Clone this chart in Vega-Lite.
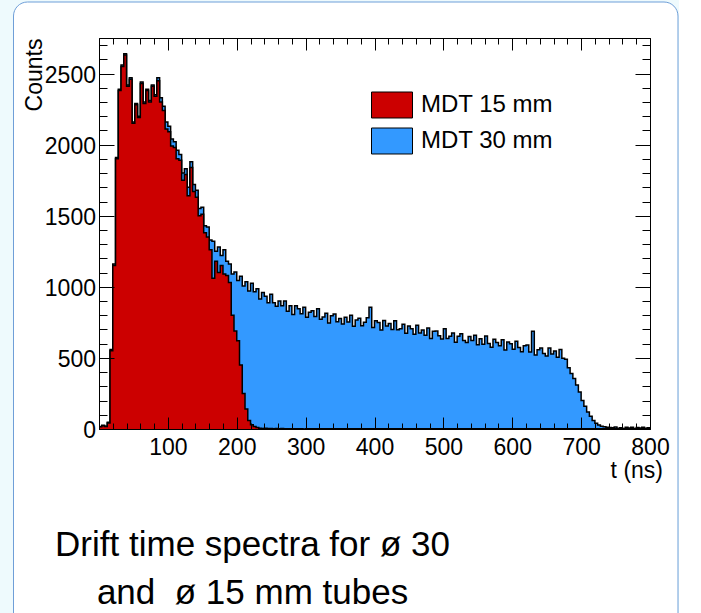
{
"$schema": "https://vega.github.io/schema/vega-lite/v6.json",
"width": 551, "height": 391,
"padding": {"left": 13, "top": 1, "right": 0, "bottom": 0},
"autosize": {"type": "pad"},
"background": "#eefafd",
"title": {"text": ["Drift time spectra for ø 30", "and \u00a0ø 15 mm tubes"], "orient": "bottom", "anchor": "middle", "frame": "group", "dx": -122, "offset": -74, "baseline": "alphabetic", "font": "Liberation Sans", "fontSize": 35, "fontWeight": "normal", "color": "black", "lineHeight": 48},
"datasets": {
"mdt30": [{"t":0,"n":18},{"t":4,"n":26},{"t":8,"n":20},{"t":12,"n":48},{"t":16,"n":560},{"t":20,"n":1160},{"t":24,"n":1910},{"t":28,"n":2390},{"t":32,"n":2560},{"t":36,"n":2640},{"t":40,"n":2420},{"t":44,"n":2470},{"t":48,"n":2160},{"t":52,"n":2290},{"t":56,"n":2200},{"t":60,"n":2440},{"t":64,"n":2300},{"t":68,"n":2390},{"t":72,"n":2310},{"t":76,"n":2420},{"t":80,"n":2350},{"t":84,"n":2470},{"t":88,"n":2330},{"t":92,"n":2270},{"t":96,"n":2160},{"t":100,"n":2130},{"t":104,"n":2040},{"t":108,"n":2020},{"t":112,"n":1960},{"t":116,"n":1930},{"t":120,"n":1800},{"t":124,"n":1830},{"t":128,"n":1700},{"t":132,"n":1880},{"t":136,"n":1720},{"t":140,"n":1680},{"t":144,"n":1550},{"t":148,"n":1560},{"t":152,"n":1430},{"t":156,"n":1420},{"t":160,"n":1330},{"t":164,"n":1320},{"t":168,"n":1250},{"t":172,"n":1280},{"t":176,"n":1220},{"t":180,"n":1260},{"t":184,"n":1180},{"t":188,"n":1160},{"t":192,"n":1090},{"t":196,"n":1105},{"t":200,"n":1045},{"t":204,"n":1075},{"t":208,"n":1005},{"t":212,"n":1035},{"t":216,"n":970},{"t":220,"n":1025},{"t":224,"n":965},{"t":228,"n":987},{"t":232,"n":915},{"t":236,"n":960},{"t":240,"n":933},{"t":244,"n":888},{"t":248,"n":948},{"t":252,"n":888},{"t":256,"n":863},{"t":260,"n":900},{"t":264,"n":867},{"t":268,"n":900},{"t":272,"n":828},{"t":276,"n":867},{"t":280,"n":806},{"t":284,"n":866},{"t":288,"n":846},{"t":292,"n":811},{"t":296,"n":856},{"t":300,"n":786},{"t":304,"n":821},{"t":308,"n":831},{"t":312,"n":791},{"t":316,"n":846},{"t":320,"n":772},{"t":324,"n":788},{"t":328,"n":814},{"t":332,"n":745},{"t":336,"n":796},{"t":340,"n":808},{"t":344,"n":755},{"t":348,"n":777},{"t":352,"n":739},{"t":356,"n":786},{"t":360,"n":753},{"t":364,"n":800},{"t":368,"n":723},{"t":372,"n":766},{"t":376,"n":779},{"t":380,"n":727},{"t":384,"n":750},{"t":388,"n":783},{"t":392,"n":856},{"t":396,"n":714},{"t":400,"n":762},{"t":404,"n":749},{"t":408,"n":696},{"t":412,"n":763},{"t":416,"n":725},{"t":420,"n":742},{"t":424,"n":699},{"t":428,"n":761},{"t":432,"n":698},{"t":436,"n":705},{"t":440,"n":737},{"t":444,"n":673},{"t":448,"n":724},{"t":452,"n":705},{"t":456,"n":667},{"t":460,"n":729},{"t":464,"n":675},{"t":468,"n":697},{"t":472,"n":659},{"t":476,"n":710},{"t":480,"n":637},{"t":484,"n":688},{"t":488,"n":690},{"t":492,"n":656},{"t":496,"n":633},{"t":500,"n":705},{"t":504,"n":636},{"t":508,"n":653},{"t":512,"n":675},{"t":516,"n":611},{"t":520,"n":653},{"t":524,"n":670},{"t":528,"n":622},{"t":532,"n":609},{"t":536,"n":651},{"t":540,"n":623},{"t":544,"n":660},{"t":548,"n":592},{"t":552,"n":634},{"t":556,"n":596},{"t":560,"n":654},{"t":564,"n":602},{"t":568,"n":575},{"t":572,"n":632},{"t":576,"n":609},{"t":580,"n":586},{"t":584,"n":628},{"t":588,"n":555},{"t":592,"n":612},{"t":596,"n":599},{"t":600,"n":561},{"t":604,"n":617},{"t":608,"n":573},{"t":612,"n":544},{"t":616,"n":585},{"t":620,"n":591},{"t":624,"n":542},{"t":628,"n":688},{"t":632,"n":520},{"t":636,"n":557},{"t":640,"n":569},{"t":644,"n":531},{"t":648,"n":513},{"t":652,"n":570},{"t":656,"n":527},{"t":660,"n":549},{"t":664,"n":505},{"t":668,"n":560},{"t":672,"n":498},{"t":676,"n":490},{"t":680,"n":430},{"t":684,"n":390},{"t":688,"n":355},{"t":692,"n":310},{"t":696,"n":260},{"t":700,"n":200},{"t":704,"n":160},{"t":708,"n":120},{"t":712,"n":90},{"t":716,"n":60},{"t":720,"n":40},{"t":724,"n":28},{"t":728,"n":20},{"t":732,"n":15},{"t":736,"n":12},{"t":740,"n":10},{"t":744,"n":8},{"t":748,"n":14},{"t":752,"n":5},{"t":756,"n":9},{"t":760,"n":4},{"t":764,"n":12},{"t":768,"n":7},{"t":772,"n":13},{"t":776,"n":4},{"t":780,"n":10},{"t":784,"n":7},{"t":788,"n":12},{"t":792,"n":5},{"t":796,"n":9},{"t":800,"n":9}],
"mdt15": [{"t":0,"n":15},{"t":4,"n":22},{"t":8,"n":18},{"t":12,"n":42},{"t":16,"n":550},{"t":20,"n":1150},{"t":24,"n":1900},{"t":28,"n":2380},{"t":32,"n":2550},{"t":36,"n":2630},{"t":40,"n":2410},{"t":44,"n":2460},{"t":48,"n":2150},{"t":52,"n":2280},{"t":56,"n":2190},{"t":60,"n":2430},{"t":64,"n":2290},{"t":68,"n":2380},{"t":72,"n":2300},{"t":76,"n":2410},{"t":80,"n":2340},{"t":84,"n":2450},{"t":88,"n":2300},{"t":92,"n":2240},{"t":96,"n":2110},{"t":100,"n":2090},{"t":104,"n":1990},{"t":108,"n":1980},{"t":112,"n":1900},{"t":116,"n":1890},{"t":120,"n":1750},{"t":124,"n":1790},{"t":128,"n":1640},{"t":132,"n":1840},{"t":136,"n":1670},{"t":140,"n":1630},{"t":144,"n":1500},{"t":148,"n":1510},{"t":152,"n":1380},{"t":156,"n":1350},{"t":160,"n":1260},{"t":164,"n":1060},{"t":168,"n":1180},{"t":172,"n":1100},{"t":176,"n":1150},{"t":180,"n":1090},{"t":184,"n":1080},{"t":188,"n":1030},{"t":192,"n":800},{"t":196,"n":690},{"t":200,"n":620},{"t":204,"n":450},{"t":208,"n":250},{"t":212,"n":140},{"t":216,"n":60},{"t":220,"n":30},{"t":224,"n":18},{"t":228,"n":10},{"t":232,"n":6},{"t":236,"n":4},{"t":240,"n":5},{"t":244,"n":3},{"t":248,"n":4},{"t":252,"n":2},{"t":256,"n":3},{"t":260,"n":2},{"t":264,"n":3},{"t":268,"n":1},{"t":272,"n":2},{"t":276,"n":1},{"t":280,"n":2},{"t":284,"n":1},{"t":288,"n":1},{"t":292,"n":1},{"t":296,"n":0},{"t":300,"n":1},{"t":800,"n":0}]
},
"layer": [
{"data": {"values": [{}]}, "mark": {"type": "rect", "fill": "white", "stroke": "#6f9fd8", "strokeWidth": 1, "cornerRadius": 14, "xOffset": -85.5, "x2Offset": 28, "yOffset": -36, "y2Offset": 200},
 "encoding": {"x": {"value": 0}, "x2": {"value": "width"}, "y": {"value": 0}, "y2": {"value": "height"}}},
{"data": {"name": "mdt30"}, "mark": {"type": "area", "interpolate": "step-after", "opacity": 1},
 "encoding": {
  "x": {"field": "t", "type": "quantitative", "scale": {"domain": [0, 800], "nice": false, "zero": false},
    "axis": {"orient": "bottom", "zindex": 2, "values": [0,100,200,300,400,500,600,700,800], "format": "d", "tickSize": -12, "labelExpr": "datum.value == 0 ? '' : datum.label", "labelFontSize": 23, "labelPadding": 19, "labelFlush": false, "labelOverlap": false, "domain": true, "title": "t (ns)", "titleX": 563.5, "titleY": 48, "titleAlign": "right", "titleBaseline": "alphabetic", "titleFontSize": 23, "titleFontWeight": "normal"}},
  "y": {"field": "n", "type": "quantitative", "stack": null, "scale": {"domain": [0, 2750], "nice": false},
    "axis": {"orient": "left", "zindex": 2, "values": [0,500,1000,1500,2000,2500], "format": "d", "tickSize": -15, "labelFontSize": 23, "labelPadding": 18.5, "labelOffset": 1.5, "labelFlush": false, "labelOverlap": false, "domain": true, "title": "Counts", "titleX": -57.5, "titleY": 0, "titleAngle": -90, "titleAlign": "right", "titleBaseline": "alphabetic", "titleFontSize": 23, "titleFontWeight": "normal"}},
  "color": {"datum": "MDT 30 mm", "type": "nominal", "scale": {"domain": ["MDT 15 mm", "MDT 30 mm"], "range": ["#cc0000", "#3399ff"]},
    "legend": {"orient": "none", "zindex": 2, "legendX": 272, "legendY": 46, "title": null, "symbolType": "M-1,-0.634H1V0.634H-1Z", "symbolSize": 1681, "symbolStrokeColor": "black", "symbolStrokeWidth": 1, "symbolOpacity": 1, "labelFont": "Liberation Sans", "labelFontSize": 24, "labelColor": "black", "labelOffset": 8, "rowPadding": -2}}
 }},
{"data": {"name": "mdt30"}, "mark": {"type": "line", "interpolate": "step-after", "color": "black", "strokeWidth": 1.5},
 "encoding": {
  "x": {"field": "t", "type": "quantitative", "scale": {"domain": [0, 800], "nice": false, "zero": false},
    "axis": {"orient": "bottom", "zindex": 2, "values": [0,20,40,60,80,100,120,140,160,180,200,220,240,260,280,300,320,340,360,380,400,420,440,460,480,500,520,540,560,580,600,620,640,660,680,700,720,740,760,780,800], "tickSize": -6, "labels": false, "domain": false, "title": null}},
  "y": {"field": "n", "type": "quantitative", "scale": {"domain": [0, 2750], "nice": false},
    "axis": {"orient": "left", "zindex": 2, "values": [0,100,200,300,400,500,600,700,800,900,1000,1100,1200,1300,1400,1500,1600,1700,1800,1900,2000,2100,2200,2300,2400,2500,2600,2700], "tickSize": -8, "labels": false, "domain": false, "title": null}}
 }},
{"data": {"name": "mdt15"}, "mark": {"type": "area", "interpolate": "step-after", "opacity": 1},
 "encoding": {
  "x": {"field": "t", "type": "quantitative", "scale": {"domain": [0, 800], "nice": false, "zero": false},
    "axis": {"orient": "top", "zindex": 2, "values": [0,100,200,300,400,500,600,700,800], "tickSize": -12, "labels": false, "domain": true, "title": null}},
  "y": {"field": "n", "type": "quantitative", "stack": null, "scale": {"domain": [0, 2750], "nice": false},
    "axis": {"orient": "right", "zindex": 2, "values": [0,500,1000,1500,2000,2500], "tickSize": -15, "labels": false, "domain": true, "title": null}},
  "color": {"datum": "MDT 15 mm", "type": "nominal", "scale": {"domain": ["MDT 15 mm", "MDT 30 mm"], "range": ["#cc0000", "#3399ff"]},
    "legend": {"orient": "none", "zindex": 2, "legendX": 272, "legendY": 46, "title": null, "symbolType": "M-1,-0.634H1V0.634H-1Z", "symbolSize": 1681, "symbolStrokeColor": "black", "symbolStrokeWidth": 1, "symbolOpacity": 1, "labelFont": "Liberation Sans", "labelFontSize": 24, "labelColor": "black", "labelOffset": 8, "rowPadding": -2}}
 }},
{"data": {"name": "mdt15"}, "mark": {"type": "line", "interpolate": "step-after", "color": "black", "strokeWidth": 1.5},
 "encoding": {
  "x": {"field": "t", "type": "quantitative", "scale": {"domain": [0, 800], "nice": false, "zero": false},
    "axis": {"orient": "top", "zindex": 2, "values": [0,20,40,60,80,100,120,140,160,180,200,220,240,260,280,300,320,340,360,380,400,420,440,460,480,500,520,540,560,580,600,620,640,660,680,700,720,740,760,780,800], "tickSize": -6, "labels": false, "domain": false, "title": null}},
  "y": {"field": "n", "type": "quantitative", "scale": {"domain": [0, 2750], "nice": false},
    "axis": {"orient": "right", "zindex": 2, "values": [0,100,200,300,400,500,600,700,800,900,1000,1100,1200,1300,1400,1500,1600,1700,1800,1900,2000,2100,2200,2300,2400,2500,2600,2700], "tickSize": -8, "labels": false, "domain": false, "title": null}}
 }}
],
"resolve": {"axis": {"x": "independent", "y": "independent"}},
"config": {
  "view": {"stroke": null, "fill": null},
  "font": "Liberation Sans",
  "axis": {"grid": false, "tickColor": "black", "tickWidth": 1, "domainColor": "black", "domainWidth": 1, "labelColor": "black", "titleColor": "black", "labelFont": "Liberation Sans", "titleFont": "Liberation Sans"}
}
}
